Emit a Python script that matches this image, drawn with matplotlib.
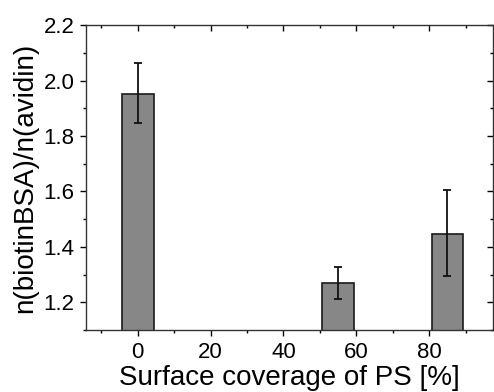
import matplotlib
matplotlib.use("Agg")
import matplotlib.pyplot as plt
from matplotlib.ticker import MultipleLocator

coverage = [0, 55, 85]
ratio = [1.953, 1.268, 1.448]
err_low = [1.846, 1.211, 1.295]
err_high = [2.062, 1.327, 1.604]

plt.rcParams['font.family'] = ['Liberation Sans', 'DejaVu Sans']

fig = plt.figure(figsize=(4.94, 3.92), dpi=100)
ax = fig.add_axes([0.174, 0.158, 0.824, 0.778])

yerr = [[r - l for r, l in zip(ratio, err_low)], [h - r for r, h in zip(ratio, err_high)]]
ax.bar(coverage, ratio, width=8.7, color='#878787', edgecolor='#1a1a1a', linewidth=1.2,
       bottom=0, zorder=2)
ax.errorbar(coverage, ratio, yerr=yerr, fmt='none', ecolor='#111111', elinewidth=1.3,
            capsize=2.9, capthick=1.3, zorder=3)

ax.set_xlim(-14.2, 97.5)
ax.set_ylim(1.1, 2.2)
ax.xaxis.set_minor_locator(MultipleLocator(10))
ax.yaxis.set_minor_locator(MultipleLocator(0.1))
ax.set_yticks([1.2, 1.4, 1.6, 1.8, 2.0, 2.2])
ax.set_xticks([0, 20, 40, 60, 80])

ax.tick_params(which='both', bottom=True, left=True, top=True, right=True,
               labelsize=16, width=1.0, pad=4)
ax.tick_params(which='major', length=4.3)
ax.tick_params(which='minor', length=2.5)
ax.tick_params(axis='x', which='both', direction='out')
ax.tick_params(axis='y', which='both', direction='out')
# top and right ticks inward
for t in ax.xaxis.get_major_ticks() + ax.xaxis.get_minor_ticks():
    t.tick2line.set_marker(3)  # TICKDOWN
for t in ax.yaxis.get_major_ticks() + ax.yaxis.get_minor_ticks():
    t.tick2line.set_marker(0)  # TICKLEFT
for s in ax.spines.values():
    s.set_linewidth(1.0)
    s.set_color('#333333')

ax.set_xlabel('Surface coverage of PS [%]', fontsize=20, labelpad=2)
ax.set_ylabel('n(biotinBSA)/n(avidin)', fontsize=20, labelpad=4)

fig.savefig('out.png', dpi=100)
